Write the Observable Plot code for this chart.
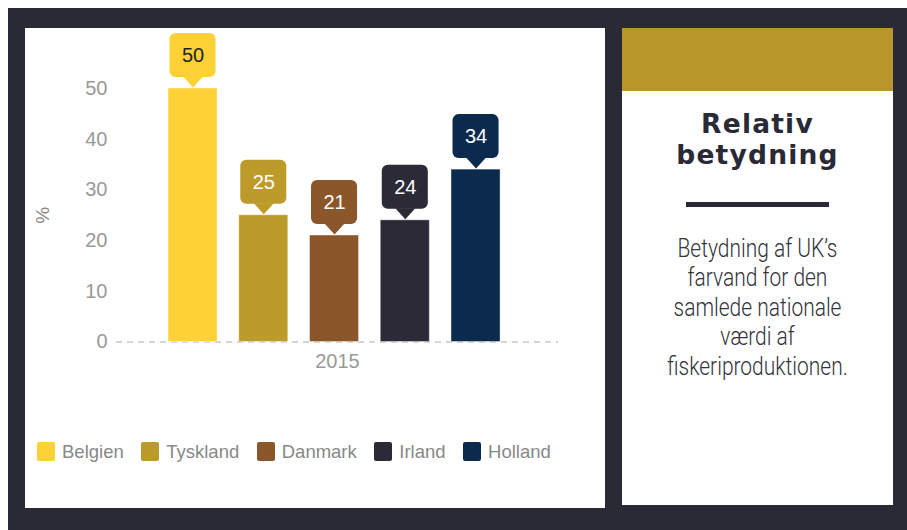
<!DOCTYPE html>
<html><head><meta charset="utf-8">
<script src="https://cdn.jsdelivr.net/npm/d3@7"></script>
<script src="https://cdn.jsdelivr.net/npm/@observablehq/plot@0.6"></script>
<style>
html,body{margin:0;padding:0;background:#fff;}
#frame{position:absolute;left:8px;top:8px;width:899px;height:522px;background:#2a2a36;}
#left{position:absolute;left:25px;top:28px;width:580px;height:480px;background:#fff;}
#chart{position:absolute;left:0;top:0;}
#legend{position:absolute;left:12px;top:407px;}
#head{position:absolute;left:622px;top:28px;width:271px;height:63px;background:#b8962a;}
#side{position:absolute;left:622px;top:91px;width:271px;height:414px;background:#fff;text-align:center;}
#title{position:absolute;left:0;top:17px;width:271px;font-family:'DejaVu Sans',sans-serif;font-weight:bold;font-size:26.5px;line-height:31px;color:#2a2a36;letter-spacing:1.2px;}
#rule{position:absolute;left:64px;top:111px;width:143px;height:5px;background:#2a2a36;}
#para{position:absolute;left:0;top:142.7px;width:271px;font-family:Roboto,'Open Sans',sans-serif;font-weight:300;font-size:25px;line-height:29.5px;color:#33333b;white-space:nowrap;transform-origin:135.5px 0;}
#para span{display:block;}
.lg-swatch{margin-right:17.5px !important;}
.lg-swatch > svg{margin-right:7px !important;}
.lg-swatch rect{rx:2px;}
</style>
</head><body>
<div id="frame"></div>
<div id="left"><div id="chart"></div><div id="legend"></div></div>
<div id="head"></div>
<div id="side">
  <div id="title">Relativ<br>betydning</div>
  <div id="rule"></div>
  <div id="para"><span><span id="l1" style="display:inline">Betydning af UK’s</span></span><span>farvand for den</span><span>samlede nationale</span><span>værdi af</span><span>fiskeriproduktionen.</span></div>
</div>
<script>
const countries = ["Belgien", "Tyskland", "Danmark", "Irland", "Holland"];
const values = [50, 25, 21, 24, 34];
const colors = ["#fed136", "#bd9b2b", "#8b572a", "#2b2a36", "#0b2a4d"];
const labelColors = ["#222222", "#ffffff", "#ffffff", "#ffffff", "#ffffff"];
const years = ["2015"];
const yTicks = [0, 10, 20, 30, 40, 50];

const data = countries.map((c, i) => ({country: c, value: values[i], year: years[0], labelColor: labelColors[i]}));

const pointer = {draw(ctx) { ctx.moveTo(-10, -12); ctx.lineTo(10, -12); ctx.lineTo(0, -1); ctx.closePath(); }};

const chart = Plot.plot({
  width: 580, height: 360,
  marginTop: 60, marginBottom: 46.5, marginLeft: 91, marginRight: 47,
  style: {fontFamily: "'Liberation Sans', Arial, sans-serif", fontSize: "20px", background: "transparent", overflow: "visible"},
  fx: {domain: years, padding: 0, round: false},
  x: {domain: countries, paddingInner: 0.307, paddingOuter: 0.777, align: 0.473, round: false, axis: null},
  y: {domain: [0, 50]},
  color: {domain: countries, range: colors},
  marks: [
    Plot.ruleY([0], {stroke: "#c8c8c8", strokeWidth: 1.5, strokeDasharray: "6,5"}),
    Plot.barY(data, {fx: "year", x: "country", y: "value", fill: "country", stroke: "#ffffff", strokeOpacity: 0.4, strokeWidth: 1}),
    Plot.barY(data, {fx: "year", x: "country", y1: "value", y2: "value", fill: "country", insetTop: -55, insetBottom: 11, insetLeft: 1.5, insetRight: 1.5, rx: 6}),
    Plot.dot(data, {fx: "year", x: "country", y: "value", fill: "country", symbol: pointer}),
    Plot.text(data, {fx: "year", x: "country", y: "value", dy: -33, text: d => String(d.value), fill: {value: "labelColor", scale: null}, fontSize: 20}),
    Plot.axisY({ticks: yTicks, tickSize: 0, tickPadding: 9, fill: "#999", label: null}),
    Plot.axisY({ticks: [], label: "%", labelArrow: "none", labelAnchor: "center", labelOffset: 81, fill: "#888", fontSize: 19}),
    Plot.axisFx({anchor: "bottom", tickSize: 0, tickPadding: 12, fill: "#999", label: null})
  ]
});
document.getElementById("chart").appendChild(chart);

const legend = Plot.legend({
  color: {domain: countries, range: colors},
  legend: "swatches", swatchWidth: 18, swatchHeight: 19, className: "lg",
  style: {fontFamily: "'Liberation Sans', Arial, sans-serif", fontSize: "18.5px", color: "#888"}
});
document.getElementById("legend").appendChild(legend);

// condense the side paragraph horizontally to the reference's narrow look
const w = document.getElementById("l1").getBoundingClientRect().width;
document.getElementById("para").style.transform = `scaleX(${160 / w})`;
</script>
</body></html>
